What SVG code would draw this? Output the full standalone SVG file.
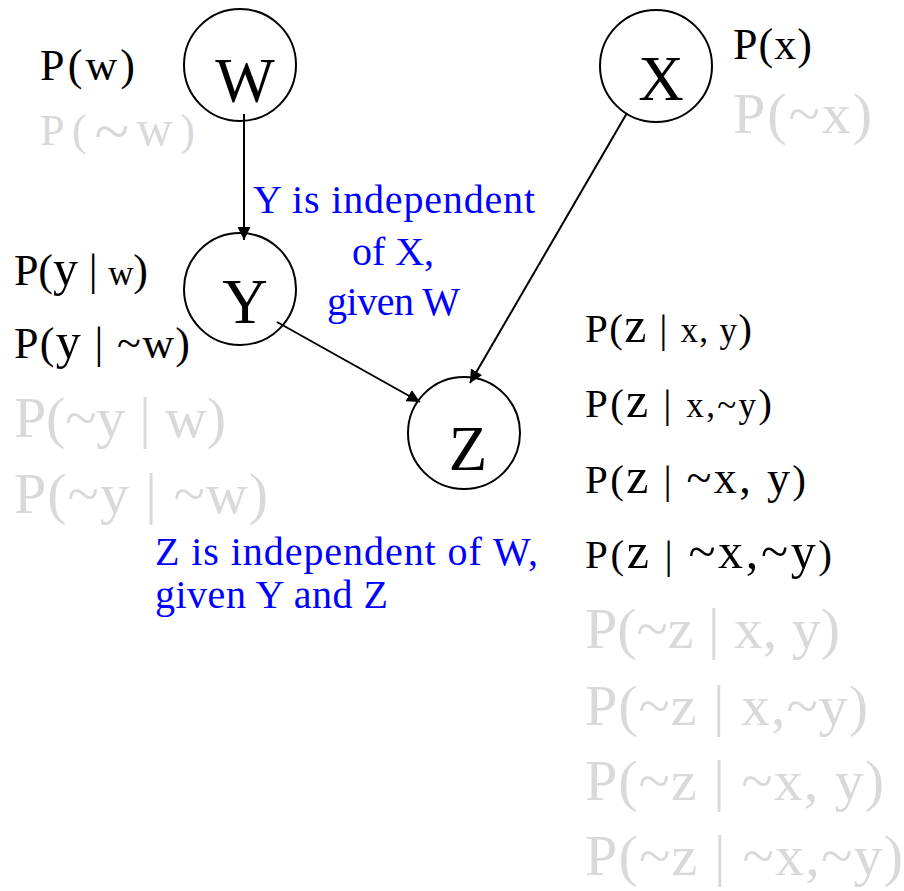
<svg xmlns="http://www.w3.org/2000/svg" width="904" height="891" viewBox="0 0 904 891">
<defs>
<style>
.node{fill:#fff;stroke:#000;stroke-width:2;}
.lbl{font-size:63px;fill:#000;text-anchor:middle;}
.p{font-size:44px;fill:#000;}
.pr{font-size:41px;fill:#000;}
.g{font-size:58px;fill:#d9d9d9;}
.b{font-size:40px;fill:#0000ff;}
.big{font-size:50px;}
.sm{font-size:35px;}
.edge{stroke:#000;stroke-width:2;fill:none;marker-end:url(#ah);}
</style>
<marker id="ah" viewBox="0 0 12 12" refX="12" refY="6" markerWidth="13" markerHeight="13" markerUnits="userSpaceOnUse" orient="auto">
<path d="M0,0 L12,6 L0,12 z" fill="#000"/>
</marker>
</defs>
<rect width="904" height="891" fill="#fff"/>
<g font-family="'Liberation Serif', 'DejaVu Serif', serif">
<g id="node-W">
<circle class="node" cx="240" cy="65" r="56"/>
<text class="lbl" x="245" y="102">W</text>
</g>
<g id="node-Y">
<circle class="node" cx="240" cy="289" r="56"/>
<text class="lbl" x="245" y="323">Y</text>
</g>
<g id="node-Z">
<circle class="node" cx="464" cy="433" r="56"/>
<text class="lbl" x="468" y="470">Z</text>
</g>
<g id="node-X">
<circle class="node" cx="656" cy="66" r="56"/>
<text class="lbl" x="661" y="100">X</text>
</g>
<g id="connectors">
<line class="edge" x1="244" y1="114" x2="244" y2="240"/>
<line class="edge" x1="277" y1="322" x2="420" y2="402"/>
<line class="edge" x1="627" y1="113" x2="470" y2="383"/>
</g>
<g id="prob-W">
<text class="p" x="40" y="80" textLength="95" lengthAdjust="spacing">P(w)</text>
<text class="p" x="40" y="145" style="fill:#d9d9d9" textLength="155" lengthAdjust="spacing">P(<tspan font-size="64" dy="8">~</tspan><tspan dy="-8" font-size="50">w</tspan>)</text>
</g>
<g id="prob-X">
<text class="p" x="733" y="59" textLength="79" lengthAdjust="spacing">P(x)</text>
<text class="g" x="733" y="133" textLength="139" lengthAdjust="spacing">P(~x)</text>
</g>
<g id="prob-Y">
<text class="p" x="14" y="285" textLength="134" lengthAdjust="spacing">P(<tspan class="big">y</tspan> | <tspan class="sm">w</tspan>)</text>
<text class="p" x="14" y="358" textLength="176" lengthAdjust="spacing">P(<tspan class="big">y</tspan> | ~w)</text>
<text class="g" x="14" y="437" textLength="212" lengthAdjust="spacing">P(~y | w)</text>
<text class="g" x="14" y="513" textLength="254" lengthAdjust="spacing">P(~y | ~w)</text>
</g>
<g id="prob-Z">
<text class="pr" x="585" y="342" textLength="167" lengthAdjust="spacing">P(<tspan class="big">z</tspan> | <tspan class="sm">x, y</tspan>)</text>
<text class="pr" x="585" y="417" textLength="187" lengthAdjust="spacing">P(<tspan class="big">z</tspan> | <tspan class="sm">x,~y</tspan>)</text>
<text class="pr" x="585" y="493" textLength="221" lengthAdjust="spacing">P(<tspan class="big">z</tspan> | <tspan font-size="46">~x, y</tspan>)</text>
<text class="pr" x="585" y="568" textLength="247" lengthAdjust="spacing">P(<tspan class="big">z</tspan> | <tspan font-size="50">~x,~y</tspan>)</text>
<text class="g" x="585" y="648" textLength="255" lengthAdjust="spacing">P(~z | x, y)</text>
<text class="g" x="585" y="725" textLength="283" lengthAdjust="spacing">P(~z | x,~y)</text>
<text class="g" x="585" y="800" textLength="299" lengthAdjust="spacing">P(~z | ~x, y)</text>
<text class="g" x="585" y="875" textLength="318" lengthAdjust="spacing">P(~z | ~x,~y)</text>
</g>
<g id="note-Y">
<text class="b" x="253" y="213" textLength="282" lengthAdjust="spacing">Y is independent</text>
<text class="b" x="393" y="265" text-anchor="middle">of X,</text>
<text class="b" x="327" y="315" textLength="133" lengthAdjust="spacing">given W</text>
</g>
<g id="note-Z">
<text class="b" x="155" y="565" textLength="383" lengthAdjust="spacing">Z is independent of W,</text>
<text class="b" x="155" y="608" textLength="233" lengthAdjust="spacing">given Y and Z</text>
</g>
</g>
</svg>
